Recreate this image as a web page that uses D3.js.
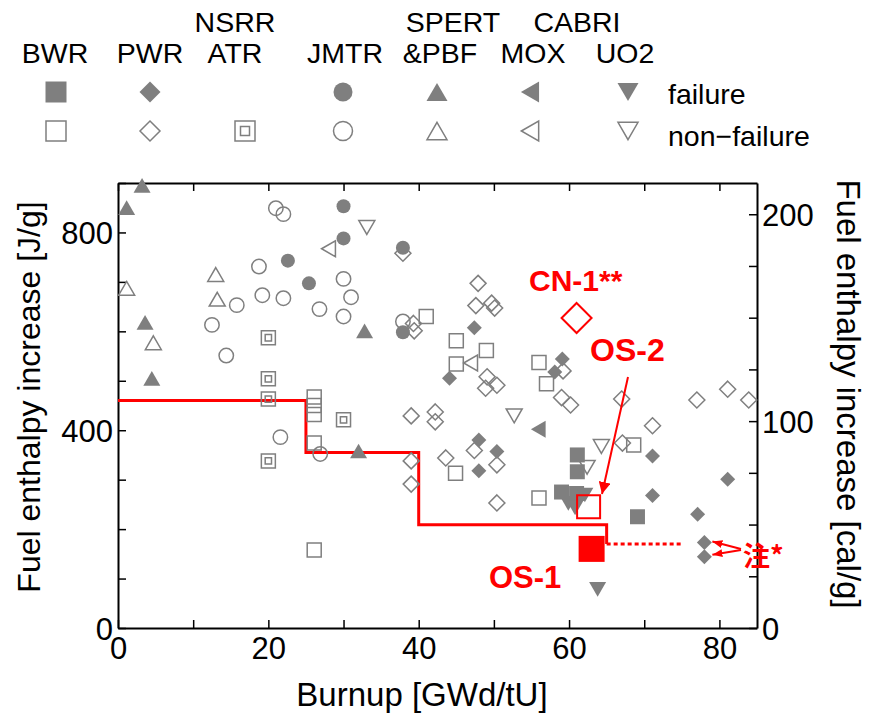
<!DOCTYPE html>
<html>
<head>
  <meta charset="utf-8">
  <script src="https://d3js.org/d3.v7.min.js"></script>
  <style>
    body { margin: 0; background: #fff; }
    text { font-family: "Liberation Sans", Arial, sans-serif; }
  </style>
</head>
<body>
<div id="chart"></div>
<script>
// burnup [GWd/tU], enthalpy increase [J/g]
var bwrFail = [[61.1, 350], [61.1, 316], [59.0, 275], [61.0, 272], [69.1, 225]];
var bwrOk = [[26.1, 467], [26.1, 450], [26.1, 432], [26.1, 374], [26.1, 158], [41.0, 630],
  [45.0, 581], [49.0, 561], [45.0, 534], [44.9, 313], [56.0, 537], [57.0, 494], [56.0, 263], [68.6, 370]];
var pwrFail = [[47.4, 607], [44.1, 505], [48.0, 380], [48.0, 318], [50.4, 357], [59.1, 544],
  [58.1, 518], [71.1, 348], [71.1, 268], [81.1, 301], [77.1, 230], [78.0, 173], [78.0, 144]];
var pwrOk = [[37.9, 758], [39.3, 616], [39.4, 601], [47.9, 697], [47.6, 652], [49.7, 657],
  [50.1, 647], [49.1, 508], [50.4, 491], [48.9, 485], [39.0, 429], [42.2, 437], [42.2, 417],
  [39.0, 338], [39.0, 291], [43.6, 344], [47.4, 359], [50.4, 330], [50.4, 253], [59.2, 520],
  [59.0, 466], [60.2, 451], [67.0, 463], [77.0, 461], [81.1, 483], [83.9, 461], [71.1, 409], [67.1, 374]];
var nsrrOk = [[20.0, 587], [20.0, 504], [20.0, 463], [20.0, 338], [30.0, 421]];
var jmtrFail = [[22.6, 743], [25.4, 697], [30.0, 853], [30.0, 788], [37.9, 769], [37.9, 598]];
var jmtrOk = [[21.0, 849], [22.0, 837], [18.75, 731], [19.2, 673], [22.0, 667], [26.8, 645],
  [15.8, 653], [12.5, 613], [14.4, 551], [30.0, 706], [31.0, 669], [30.0, 630], [37.9, 620],
  [21.6, 386], [26.9, 352]];
var spertFail = [[3.2, 895], [1.15, 850], [3.6, 618], [4.5, 505], [32.8, 601], [32.0, 358]];
var spertOk = [[13.0, 715], [1.15, 687], [13.2, 665], [4.7, 577]];
var moxFail = [[55.9, 402]];
var moxOk = [[28.0, 767], [46.9, 536]];
var uo2Fail = [[59.9, 252], [62.1, 269], [60.8, 243], [63.8, 78]];
var uo2Ok = [[33.1, 810], [52.7, 429], [64.3, 367], [62.4, 325]];

// highlighted tests
var cn1 = [61.0, 627], os2 = [62.6, 245], os1 = [63.0, 160];

// PCMI failure threshold (step), then dotted extension
var limitPts = [[0, 460], [25, 355], [40, 209], [65, 170]];
var limitExt = [[65, 170], [75, 170]];

var xTicks = d3.range(0, 90, 10);
var yTicks = d3.range(0, 1000, 100);
var calTicks = d3.range(0, 225, 25);

var W = 870, H = 720;
var gray = "#7f7f7f";
var svg = d3.select("#chart").append("svg").attr("width", W).attr("height", H);

var x = d3.scaleLinear().domain([0, 85]).range([118, 757]);
var y = d3.scaleLinear().domain([0, 900]).range([628, 183]);
var yCal = d3.scaleLinear().domain([0, 900 / 4.184]).range([628, 183]);

function shape(type, s) {
  var h = s * 0.866;
  switch (type) {
    case "square": return "M" + (-s) + "," + (-s) + "H" + s + "V" + s + "H" + (-s) + "Z";
    case "diamond": return "M0," + (-s) + "L" + s + ",0L0," + s + "L" + (-s) + ",0Z";
    case "circle": return "M" + s + ",0A" + s + "," + s + " 0 1,1 " + (-s) + ",0A" + s + "," + s + " 0 1,1 " + s + ",0Z";
    case "up": return "M0," + (-h) + "L" + s + "," + h + "L" + (-s) + "," + h + "Z";
    case "down": return "M0," + h + "L" + s + "," + (-h) + "L" + (-s) + "," + (-h) + "Z";
    case "left": return "M" + (-h) + ",0L" + h + "," + (-s) + "L" + h + "," + s + "Z";
    case "double": var t = s * 0.45;
      return shape("square", s) + "M" + (-t) + "," + (-t) + "H" + t + "V" + t + "H" + (-t) + "Z";
  }
}

var series = [
  {data: bwrOk, type: "square", fill: false, s: 7},
  {data: pwrOk, type: "diamond", fill: false, s: 8},
  {data: nsrrOk, type: "double", fill: false, s: 7},
  {data: jmtrOk, type: "circle", fill: false, s: 7.2},
  {data: spertOk, type: "up", fill: false, s: 8},
  {data: moxOk, type: "left", fill: false, s: 8},
  {data: uo2Ok, type: "down", fill: false, s: 8},
  {data: bwrFail, type: "square", fill: true, s: 7.5},
  {data: pwrFail, type: "diamond", fill: true, s: 7.5},
  {data: jmtrFail, type: "circle", fill: true, s: 7},
  {data: spertFail, type: "up", fill: true, s: 8.5},
  {data: moxFail, type: "left", fill: true, s: 8.5},
  {data: uo2Fail, type: "down", fill: true, s: 8.5}
];

// axes
var gx = svg.append("g").attr("transform", "translate(0,628)")
  .call(d3.axisBottom(x).tickValues(xTicks).tickSize(-8).tickSizeOuter(0).tickPadding(9)
    .tickFormat(function(d) { return d % 20 === 0 ? d : ""; }));
var gxt = svg.append("g").attr("transform", "translate(0,183)")
  .call(d3.axisTop(x).tickValues(xTicks).tickSize(-8).tickSizeOuter(0).tickFormat(""));
var gy = svg.append("g").attr("transform", "translate(118,0)")
  .call(d3.axisLeft(y).tickValues(yTicks).tickSize(-8).tickSizeOuter(0).tickPadding(5)
    .tickFormat(function(d) { return d % 400 === 0 ? d : ""; }));
var gyr = svg.append("g").attr("transform", "translate(757,0)")
  .call(d3.axisRight(yCal).tickValues(calTicks).tickSize(-8).tickSizeOuter(0).tickPadding(5)
    .tickFormat(function(d) { return d % 100 === 0 ? d : ""; }));
[gx, gxt, gy, gyr].forEach(function(g) {
  g.select(".domain").attr("stroke", "#000").attr("stroke-width", 2);
  g.selectAll(".tick line").attr("stroke", "#000").attr("stroke-width", 1.5);
  g.selectAll("text").style("font-family", "Liberation Sans, Arial, sans-serif")
    .attr("font-size", 31).attr("fill", "#000");
});
gy.selectAll("text").attr("dy", "0.36em");
gyr.selectAll("text").attr("dy", "0.36em");

// limit line
svg.append("path")
  .attr("d", d3.line().x(function(d) { return x(d[0]); }).y(function(d) { return y(d[1]); })
    .curve(d3.curveStepAfter)(limitPts))
  .attr("fill", "none").attr("stroke", "#ff0000").attr("stroke-width", 3);
svg.append("path")
  .attr("d", d3.line().x(function(d) { return x(d[0]); }).y(function(d) { return y(d[1]); })(limitExt))
  .attr("fill", "none").attr("stroke", "#ff0000").attr("stroke-width", 3).attr("stroke-dasharray", "4,3");

// data markers
series.forEach(function(sr) {
  svg.append("g").selectAll("path").data(sr.data).enter().append("path")
    .attr("transform", function(d) { return "translate(" + x(d[0]) + "," + y(d[1]) + ")"; })
    .attr("d", shape(sr.type, sr.s))
    .attr("fill", sr.fill ? gray : "none")
    .attr("stroke", sr.fill ? "none" : gray)
    .attr("stroke-width", 1.5);
});

// highlighted tests
svg.append("path").attr("transform", "translate(" + x(cn1[0]) + "," + y(cn1[1]) + ")")
  .attr("d", shape("diamond", 15)).attr("fill", "none").attr("stroke", "#ff0000").attr("stroke-width", 2);
svg.append("path").attr("transform", "translate(" + x(os2[0]) + "," + y(os2[1]) + ")")
  .attr("d", shape("square", 11.5)).attr("fill", "none").attr("stroke", "#ff0000").attr("stroke-width", 2);
svg.append("path").attr("transform", "translate(" + x(os1[0]) + "," + y(os1[1]) + ")")
  .attr("d", shape("square", 13)).attr("fill", "#ff0000");

// arrows
var defs = svg.append("defs");
defs.append("marker").attr("id", "ah").attr("viewBox", "0 0 10 10").attr("refX", 10).attr("refY", 5)
  .attr("markerWidth", 6).attr("markerHeight", 6).attr("markerUnits", "strokeWidth").attr("orient", "auto")
  .append("path").attr("d", "M0,0L10,5L0,10Z").attr("fill", "#ff0000");
defs.append("marker").attr("id", "ah2").attr("viewBox", "0 0 10 10").attr("refX", 10).attr("refY", 5)
  .attr("markerWidth", 5).attr("markerHeight", 5).attr("markerUnits", "strokeWidth").attr("orient", "auto")
  .append("path").attr("d", "M0,1L10,5L0,9Z").attr("fill", "#ff0000");

svg.append("line").attr("x1", 628).attr("y1", 377).attr("x2", 602).attr("y2", 494)
  .attr("stroke", "#ff0000").attr("stroke-width", 2).attr("marker-end", "url(#ah)");
svg.append("line").attr("x1", 741).attr("y1", 549).attr("x2", x(78) + 8).attr("y2", y(173) - 1)
  .attr("stroke", "#ff0000").attr("stroke-width", 2).attr("marker-end", "url(#ah2)");
svg.append("line").attr("x1", 741).attr("y1", 550).attr("x2", x(78) + 8).attr("y2", y(144) - 2)
  .attr("stroke", "#ff0000").attr("stroke-width", 2).attr("marker-end", "url(#ah2)");

// red labels
function redText(t, px, py, fs) {
  svg.append("text").attr("x", px).attr("y", py).attr("font-size", fs).attr("font-weight", "bold")
    .attr("fill", "#ff0000").text(t);
}
redText("CN-1**", 529, 291, 30);
redText("OS-2", 590, 361, 32);
redText("OS-1", 489, 588, 31);
svg.append("text").attr("x", 743).attr("y", 566).attr("font-size", 27).attr("font-weight", "bold")
  .attr("fill", "#ff0000").style("font-family", "Noto Sans CJK JP, sans-serif").text("注*");

// axis titles
svg.append("text").attr("x", 422).attr("y", 706).attr("text-anchor", "middle").attr("font-size", 33)
  .text("Burnup [GWd/tU]");
svg.append("text").attr("transform", "translate(40,397) rotate(-90)").attr("text-anchor", "middle")
  .attr("font-size", 32).text("Fuel enthalpy increase [J/g]");
svg.append("text").attr("transform", "translate(837,394) rotate(90)").attr("text-anchor", "middle")
  .attr("font-size", 33).text("Fuel enthalpy increase [cal/g]");

// legend
var legendTop = ["NSRR", "SPERT", "CABRI"];
var legendTopX = [235, 453, 577];
var legendNames = ["BWR", "PWR", "ATR", "JMTR", "&PBF", "MOX", "UO2"];
var legendX = [55, 150, 235, 345, 440, 533, 625];
var legendSymX = [56, 150, 245, 343, 437, 530, 628];
var legendShapes = ["square", "diamond", "double", "circle", "up", "left", "down"];

legendTop.forEach(function(t, i) {
  svg.append("text").attr("x", legendTopX[i]).attr("y", 32).attr("text-anchor", "middle")
    .attr("font-size", 28.5).text(t);
});
legendNames.forEach(function(t, i) {
  svg.append("text").attr("x", legendX[i]).attr("y", 63).attr("text-anchor", "middle")
    .attr("font-size", 28.5).text(t);
  if (legendShapes[i] !== "double") {
    svg.append("path").attr("transform", "translate(" + legendSymX[i] + ",92)")
      .attr("d", shape(legendShapes[i], legendShapes[i] === "circle" ? 9.5 : 10.5)).attr("fill", gray);
  }
  svg.append("path").attr("transform", "translate(" + legendSymX[i] + ",131)")
    .attr("d", shape(legendShapes[i], legendShapes[i] === "circle" ? 9.5 : 10))
    .attr("fill", "none").attr("stroke", gray).attr("stroke-width", 1.5);
});
svg.append("text").attr("x", 668).attr("y", 104).attr("font-size", 28.5).text("failure");
svg.append("text").attr("x", 668).attr("y", 146).attr("font-size", 28.5).text("non\u2212failure");
</script>
</body>
</html>
